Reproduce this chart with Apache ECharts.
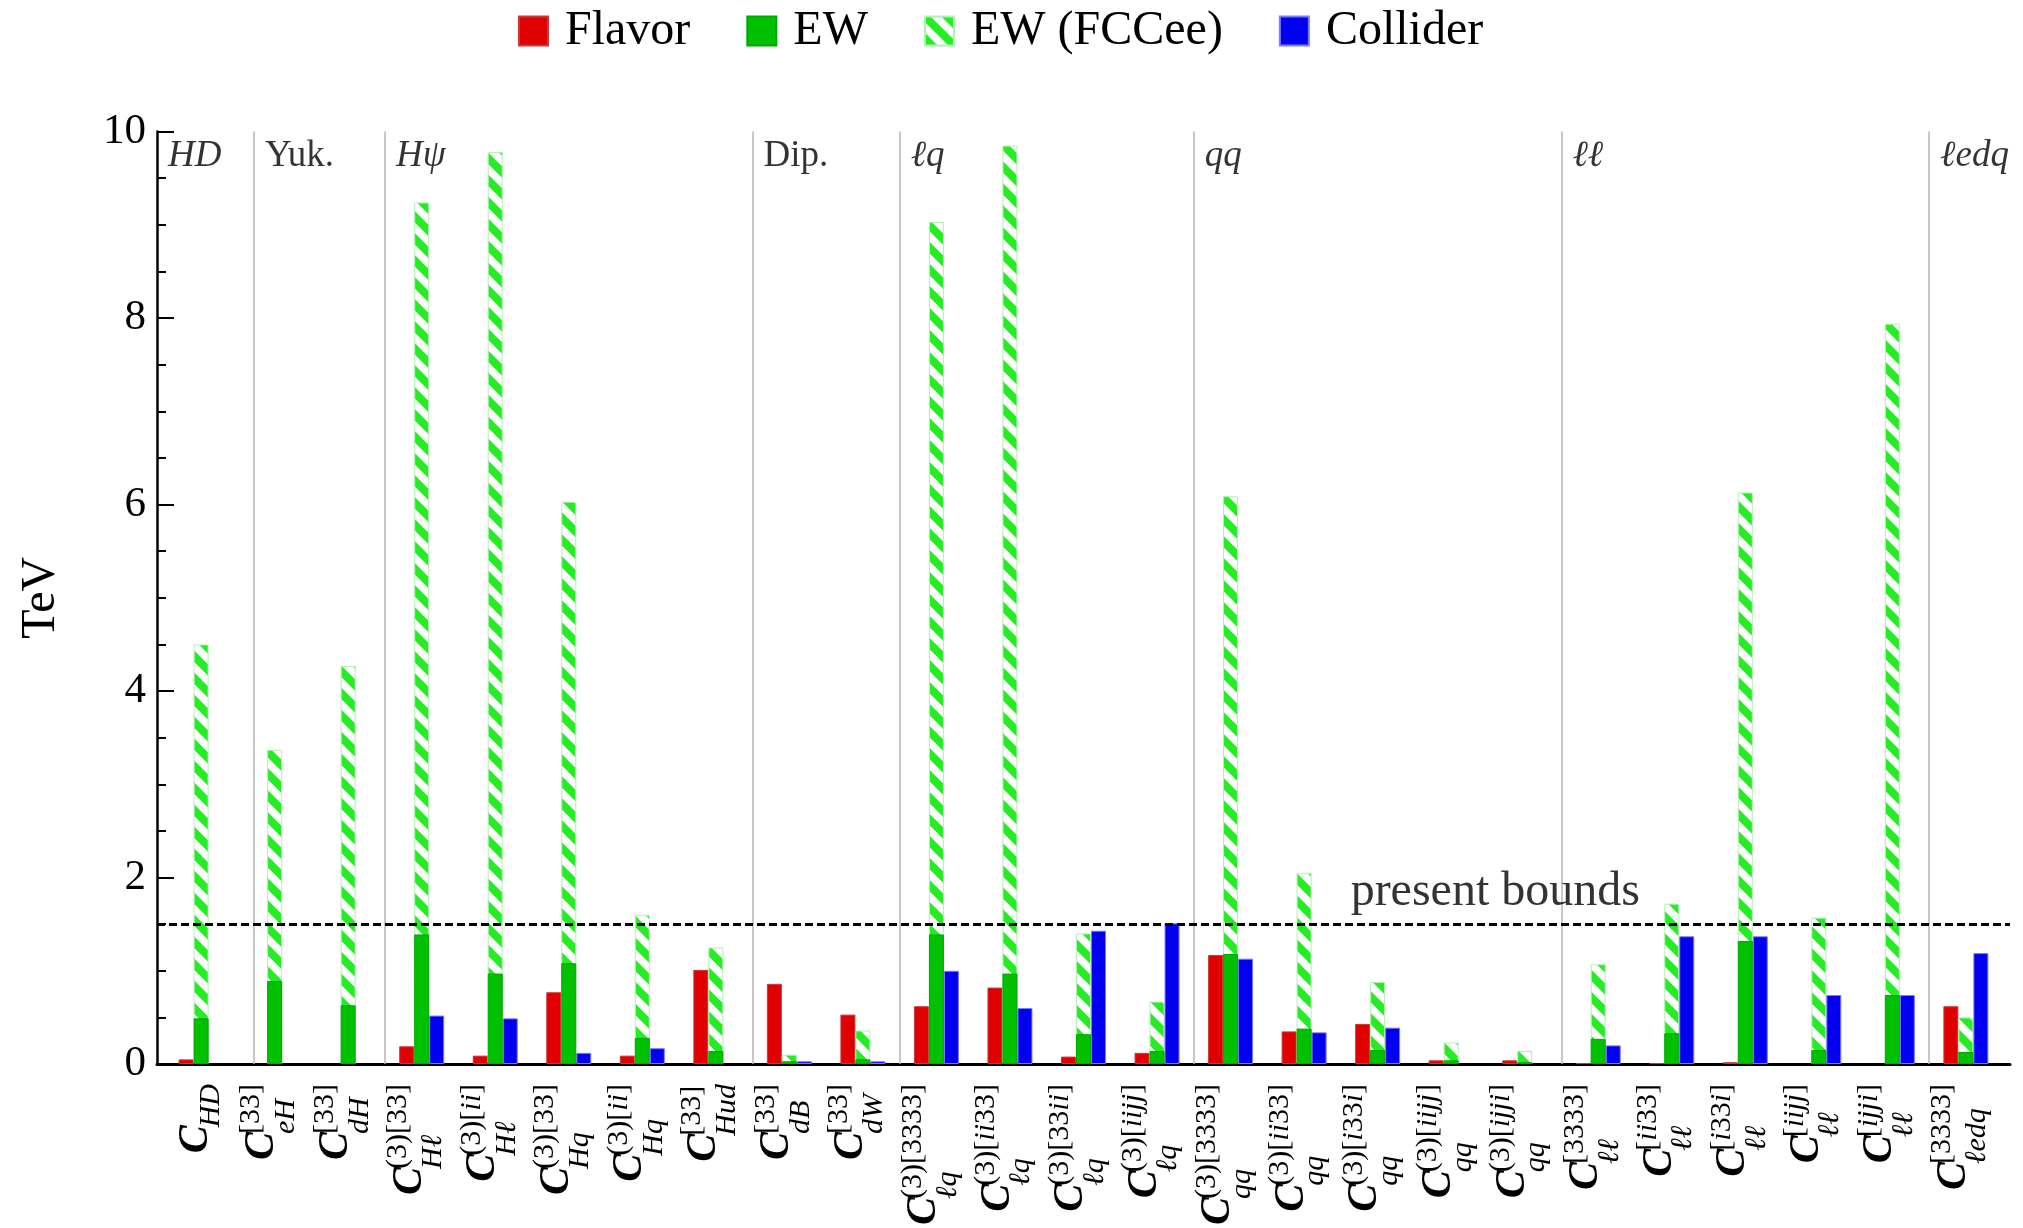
<!DOCTYPE html>
<html>
<head>
<meta charset="utf-8">
<script src="https://cdn.jsdelivr.net/npm/echarts@6/dist/echarts.min.js"></script>
<style>
  html, body { margin: 0; padding: 0; background: #ffffff; }
  #chart { width: 2023px; height: 1228px; }
</style>
</head>
<body>
<div id="chart"></div>
<script>
// Wilson coefficient labels: superscript (flavour indices) and subscript (operator)
const labelSup = ['', '[33]', '[33]', '(3)[33]', '(3)[ii]', '(3)[33]', '(3)[ii]', '[33]', '[33]', '[33]',
  '(3)[3333]', '(3)[ii33]', '(3)[33ii]', '(3)[iijj]',
  '(3)[3333]', '(3)[ii33]', '(3)[i33i]', '(3)[iijj]', '(3)[ijji]',
  '[3333]', '[ii33]', '[i33i]', '[iijj]', '[ijji]', '[3333]'];
const labelSub = ['HD', 'eH', 'dH', 'Hℓ', 'Hℓ', 'Hq', 'Hq', 'Hud', 'dB', 'dW',
  'ℓq', 'ℓq', 'ℓq', 'ℓq', 'qq', 'qq', 'qq', 'qq', 'qq',
  'ℓℓ', 'ℓℓ', 'ℓℓ', 'ℓℓ', 'ℓℓ', 'ℓedq'];

// Scale reach in TeV for each coefficient
const flavor   = [0.05, null, null, 0.19, 0.09, 0.77, 0.09, 1.01, 0.86, 0.53,
  0.62, 0.82, 0.08, 0.12, 1.17, 0.35, 0.43, 0.04, 0.04, 0.01, 0.01, 0.02, null, null, 0.62];
const ew       = [0.49, 0.89, 0.63, 1.39, 0.97, 1.08, 0.28, 0.14, 0.03, 0.05,
  1.39, 0.97, 0.32, 0.14, 1.18, 0.38, 0.15, 0.04, 0.02, 0.27, 0.33, 1.32, 0.15, 0.74, 0.13];
const ewFCCee  = [4.50, 3.37, 4.27, 9.24, 9.78, 6.03, 1.60, 1.25, 0.10, 0.36,
  9.03, 9.85, 1.40, 0.67, 6.09, 2.05, 0.88, 0.23, 0.14, 1.07, 1.72, 6.13, 1.57, 7.94, 0.50];
const collider = [null, null, null, 0.52, 0.49, 0.12, 0.17, null, 0.03, 0.03,
  1.00, 0.60, 1.43, 1.51, 1.13, 0.34, 0.39, null, null, 0.20, 1.37, 1.37, 0.74, 0.74, 1.19];

// Operator classes: name and where each block starts on the coefficient axis
const groupNames  = ['HD', 'Yuk.', 'Hψ', 'Dip.', 'ℓq', 'qq', 'ℓℓ', 'ℓedq'];
const groupItalic = [true, false, true, false, true, true, true, true];
const groupStart  = [-0.6, 0.72, 2.5, 7.5, 9.5, 13.5, 18.5, 23.5];

const presentBound = 1.5;
const yTicks = [0, 2, 4, 6, 8, 10];

const FONT = 'Liberation Serif';
const X_MIN = -0.6, X_MAX = 24.6;

// Diagonal hatch used for the FCC-ee projection
function makeHatch() {
  const P = 22;
  const c = document.createElement('canvas');
  c.width = P; c.height = P;
  const g = c.getContext('2d');
  g.fillStyle = '#ffffff';
  g.fillRect(0, 0, P, P);
  g.strokeStyle = '#22ee22';
  g.lineWidth = 8;
  g.lineCap = 'square';
  for (let k = -1; k <= 1; k++) {
    g.beginPath();
    g.moveTo(k * P, 0);
    g.lineTo(k * P + P, P);
    g.stroke();
  }
  return { image: c, repeat: 'repeat' };
}
const hatch = makeHatch();

// Rich-text label  C^{sup}_{sub}
function texLabel(i) {
  const sup = labelSup[i], sub = labelSub[i];
  if (sup) {
    const runs = sup.match(/[a-z]+|[^a-z]+/g).map(r => /[a-z]/.test(r) ? '{ui|' + r + '}' : '{u|' + r + '}').join('');
    return '{us| }' + runs + '\n{c|C}\n{ds| }{d|' + sub + '}';
  }
  return '{e| }\n{c|C}\n{fs| }{f|' + sub + '}';
}

const idx = labelSub.map((_, i) => i);
const pairs = arr => arr.map((v, i) => [i, v]);

const chart = echarts.init(document.getElementById('chart'), null, { renderer: 'canvas' });

const SUPSZ = 30;
const CW = 26;
const option = {
  backgroundColor: '#ffffff',
  animation: false,
  textStyle: { fontFamily: FONT, color: '#000' },
  legend: {
    left: 513, top: 2,
    icon: 'rect', itemWidth: 29, itemHeight: 29, itemGap: 56,
    textStyle: { fontFamily: FONT, fontSize: 48, color: '#000', padding: [0, 0, 0, 12] },
    data: ['Flavor', 'EW', 'EW (FCCee)', 'Collider']
  },
  grid: { left: 157, right: 13, top: 131.6, bottom: 162, containLabel: false },
  xAxis: [{
    type: 'value', min: X_MIN, max: X_MAX,
    axisLine: { show: true, onZero: true, lineStyle: { color: '#000', width: 3 } },
    axisTick: { show: false },
    splitLine: { show: false },
    axisLabel: {
      show: true, rotate: 90, margin: 20,
      customValues: idx,
      formatter: v => texLabel(Math.round(v)),
      rich: {
        c:  { fontFamily: FONT, fontSize: 42, fontStyle: 'italic', fontWeight: 'bold', lineHeight: 10, align: 'left', verticalAlign: 'middle', color: '#000' },
        u:  { fontFamily: FONT, fontSize: SUPSZ, lineHeight: 13, align: 'left', verticalAlign: 'middle', color: '#000' },
        ui: { fontFamily: FONT, fontSize: SUPSZ, fontStyle: 'italic', lineHeight: 13, align: 'left', verticalAlign: 'middle', color: '#000' },
        us: { width: CW, lineHeight: 13, align: 'left' },
        d:  { fontFamily: FONT, fontSize: SUPSZ, fontStyle: 'italic', lineHeight: 37, align: 'left', verticalAlign: 'middle', color: '#000' },
        ds: { width: CW, lineHeight: 37, align: 'left' },
        e:  { lineHeight: 10, align: 'left' },
        f:  { fontFamily: FONT, fontSize: SUPSZ, fontStyle: 'italic', lineHeight: 19, align: 'left', verticalAlign: 'middle', color: '#000' },
        fs: { width: CW, lineHeight: 19, align: 'left' }
      }
    }
  }, {
    type: 'value', min: X_MIN, max: X_MAX, show: false
  }],
  yAxis: {
    type: 'value', min: yTicks[0], max: yTicks[yTicks.length - 1], interval: 2,
    name: 'TeV', nameLocation: 'middle', nameGap: 92, nameRotate: 90,
    nameTextStyle: { fontFamily: FONT, fontSize: 48, color: '#000' },
    axisLine: { show: true, onZero: false, lineStyle: { color: '#000', width: 2.5 } },
    axisTick: { show: true, inside: true, length: 17, lineStyle: { color: '#000', width: 2 } },
    minorTick: { show: true, splitNumber: 4, length: 9, lineStyle: { color: '#000', width: 2 } },
    axisLabel: { fontFamily: FONT, fontSize: 43, color: '#000', margin: 11 },
    splitLine: { show: false }
  },
  series: [
    {
      name: 'Flavor', type: 'bar', xAxisIndex: 0, barWidth: 15, barGap: '0%', z: 2,
      itemStyle: { color: '#e00000', borderColor: '#c83a3a', borderWidth: 1 },
      data: pairs(flavor)
    },
    {
      name: 'EW (FCCee)', type: 'bar', xAxisIndex: 0, barWidth: 15, barGap: '0%', z: 2,
      itemStyle: { color: hatch, borderColor: '#b4f0b4', borderWidth: 1 },
      data: pairs(ewFCCee)
    },
    {
      name: 'Collider', type: 'bar', xAxisIndex: 0, barWidth: 15, barGap: '0%', z: 2,
      itemStyle: { color: '#0000ee', borderColor: '#7a7aff', borderWidth: 1 },
      data: pairs(collider)
    },
    {
      name: 'EW', type: 'bar', xAxisIndex: 1, barWidth: 15, z: 3,
      itemStyle: { color: '#00c000', borderColor: '#00a800', borderWidth: 1 },
      data: pairs(ew)
    },
    {
      // class separators and class names
      type: 'scatter', xAxisIndex: 0, symbolSize: 0, silent: true, z: 1,
      data: groupNames.map((n, i) => ({
        value: [groupStart[i], 9.73], name: n,
        label: { fontStyle: groupItalic[i] ? 'italic' : 'normal' }
      })),
      label: {
        show: true, position: 'right', distance: 11,
        formatter: p => p.name,
        fontFamily: FONT, fontSize: 37, color: '#000'
      },
      markLine: {
        silent: true, symbol: 'none', animation: false,
        lineStyle: { color: '#b4b4b4', width: 1.5, type: 'solid' },
        label: { show: false },
        data: groupStart.slice(1).map(x => ({ xAxis: x }))
      }
    },
    {
      // present bounds
      type: 'scatter', xAxisIndex: 0, symbolSize: 0, silent: true, z: 5,
      data: [{ value: [17.6, presentBound], name: 'present bounds' }],
      label: {
        show: true, position: 'top', distance: 8,
        formatter: p => p.name,
        fontFamily: FONT, fontSize: 48, color: '#000'
      },
      markLine: {
        silent: true, symbol: 'none', animation: false, z: 5,
        lineStyle: { color: '#000', width: 3, type: [8, 4] },
        label: { show: false },
        data: [{ yAxis: presentBound }]
      }
    }
  ]
};

chart.setOption(option);
</script>
</body>
</html>
